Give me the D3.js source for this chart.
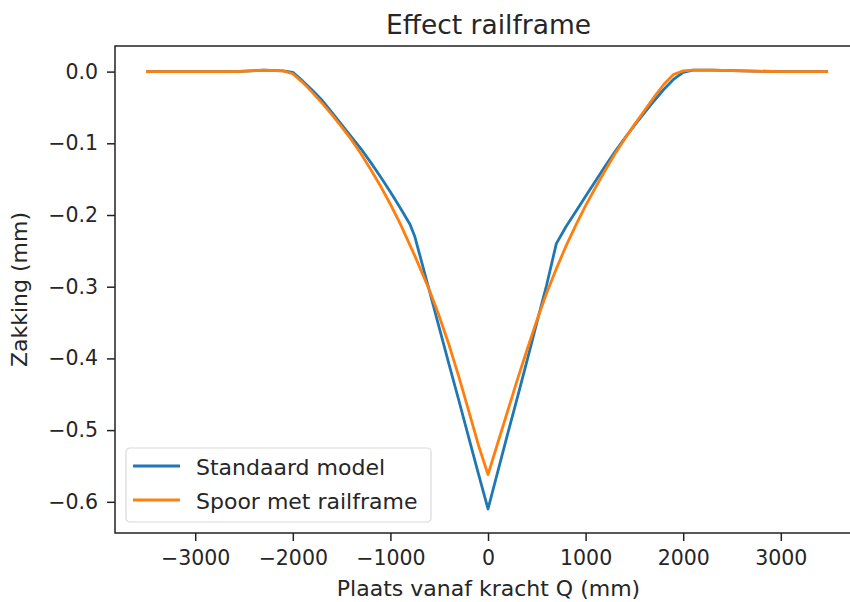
<!DOCTYPE html>
<html>
<head>
<meta charset="utf-8">
<script src="https://cdn.jsdelivr.net/npm/d3@7"></script>
<style>
	body { margin: 0; background: #fff; }
	svg { display: block; font-family: "DejaVu Sans", sans-serif; }
</style>
</head>
<body>
<svg id="chart" width="850" height="602"></svg>
<script>
'use strict';

// Place along the track (mm)
var plaats = [-3490, -3000, -2600, -2300, -2100, -2000, -1900, -1800, -1700, -1600, -1500,
	-1400, -1300, -1200, -1100, -1000, -900, -800, -750, -600, -500, -400, -300, -200, -100,
	0, 100, 200, 300, 400, 500, 600, 700, 800, 900, 1000, 1100, 1200, 1300, 1400, 1500,
	1600, 1700, 1800, 1900, 2000, 2100, 2300, 2600, 3000, 3470];

// Zakking standaard model (mm)
var standaard = [0.000, 0.000, 0.000, 0.002, 0.001, -0.001, -0.013, -0.026, -0.040, -0.057, -0.074,
	-0.091, -0.108, -0.127, -0.147, -0.168, -0.190, -0.213, -0.230, -0.306, -0.357, -0.408, -0.458, -0.509, -0.560,
	-0.610, -0.558, -0.506, -0.455, -0.403, -0.350, -0.298, -0.240, -0.216, -0.195, -0.174, -0.153, -0.132, -0.112, -0.093, -0.075,
	-0.058, -0.041, -0.025, -0.011, -0.001, 0.002, 0.002, 0.001, 0.000, 0.000];

// Zakking spoor met railframe (mm)
var railframe = [0.000, 0.000, 0.000, 0.002, 0.001, -0.003, -0.015, -0.029, -0.044, -0.060, -0.077,
	-0.095, -0.115, -0.137, -0.160, -0.185, -0.212, -0.242, -0.257, -0.305, -0.341, -0.381, -0.425, -0.472, -0.520,
	-0.562, -0.518, -0.474, -0.430, -0.388, -0.347, -0.309, -0.275, -0.243, -0.214, -0.187, -0.162, -0.138, -0.115, -0.094, -0.074,
	-0.055, -0.036, -0.018, -0.004, 0.001, 0.002, 0.002, 0.001, 0.000, 0.000];

var seriesNames = ['Standaard model', 'Spoor met railframe'];
var seriesColors = ['#1f77b4', '#ff7f0e'];
var xTicks = [-3000, -2000, -1000, 0, 1000, 2000, 3000];
var yTicks = [0.0, -0.1, -0.2, -0.3, -0.4, -0.5, -0.6];

/*
 * Layout
 */
var svg = d3.select('#chart');
var plot = { left: 115, right: 862, top: 46, bottom: 533 };

var x = d3.scaleLinear().domain([-3822, 3832]).range([plot.left, plot.right]);
var y = d3.scaleLinear().domain([0.0357, -0.6435]).range([plot.top, plot.bottom]);

var minus = function(s) { return s.replace('-', '\u2212'); };

/*
 * Axes
 */
var xAxis = svg.append('g')
	.attr('transform', 'translate(0,' + plot.bottom + ')')
	.call(d3.axisBottom(x).tickValues(xTicks).tickSize(8).tickPadding(9)
		.tickFormat(function(d) { return minus(d3.format('d')(d)); }));

var yAxis = svg.append('g')
	.attr('transform', 'translate(' + plot.left + ',0)')
	.call(d3.axisLeft(y).tickValues(yTicks).tickSize(8).tickPadding(9)
		.tickFormat(function(d) { return minus(d3.format('.1f')(d)); }));

[xAxis, yAxis].forEach(function(a) {
	a.select('.domain').remove();
	a.selectAll('line').attr('stroke', '#222').attr('stroke-width', 1.5);
	a.selectAll('text').attr('font-size', 20.5).attr('fill', '#262626')
		.attr('font-family', '"DejaVu Sans", sans-serif');
});

// Frame
svg.append('rect')
	.attr('x', plot.left).attr('y', plot.top)
	.attr('width', plot.right - plot.left).attr('height', plot.bottom - plot.top)
	.attr('fill', 'none').attr('stroke', '#222').attr('stroke-width', 1.5);

/*
 * Lines
 */
var clip = svg.append('clipPath').attr('id', 'clip').append('rect')
	.attr('x', plot.left).attr('y', plot.top)
	.attr('width', plot.right - plot.left).attr('height', plot.bottom - plot.top);

var line = d3.line()
	.x(function(d) { return x(d[0]); })
	.y(function(d) { return y(d[1]); });

[standaard, railframe].forEach(function(values, i) {
	svg.append('path')
		.datum(d3.zip(plaats, values))
		.attr('clip-path', 'url(#clip)')
		.attr('fill', 'none')
		.attr('stroke', seriesColors[i])
		.attr('stroke-width', 2.8)
		.attr('stroke-linejoin', 'round')
		.attr('stroke-linecap', 'square')
		.attr('d', line);
});

/*
 * Texts
 */
svg.append('text')
	.attr('x', (plot.left + plot.right) / 2).attr('y', 34)
	.attr('text-anchor', 'middle').attr('font-size', 26.5).attr('fill', '#262626')
	.text('Effect railframe');

svg.append('text')
	.attr('x', (plot.left + plot.right) / 2).attr('y', 596)
	.attr('text-anchor', 'middle').attr('font-size', 22).attr('fill', '#262626')
	.text('Plaats vanaf kracht Q (mm)');

svg.append('text')
	.attr('transform', 'translate(27,' + ((plot.top + plot.bottom) / 2) + ') rotate(-90)')
	.attr('text-anchor', 'middle').attr('font-size', 22).attr('fill', '#262626')
	.text('Zakking (mm)');

/*
 * Legend
 */
var legend = svg.append('g').attr('transform', 'translate(126,448)');

legend.append('rect')
	.attr('width', 305).attr('height', 74).attr('rx', 4)
	.attr('fill', '#fff').attr('fill-opacity', 0.8)
	.attr('stroke', '#d9d9d9').attr('stroke-width', 1.2);

seriesNames.forEach(function(name, i) {
	var row = legend.append('g').attr('transform', 'translate(0,' + (18 + i * 34) + ')');
	row.append('line')
		.attr('x1', 7).attr('x2', 54)
		.attr('stroke', seriesColors[i]).attr('stroke-width', 2.8);
	row.append('text')
		.attr('x', 70).attr('y', 9)
		.attr('font-size', 22).attr('fill', '#262626')
		.text(name);
});
</script>
</body>
</html>
